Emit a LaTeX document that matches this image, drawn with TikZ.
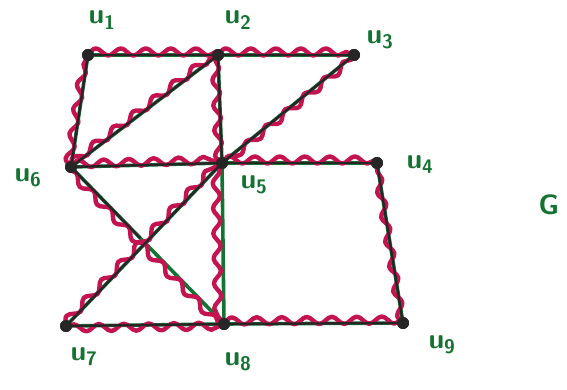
\documentclass[tikz,border=0pt]{standalone}
\usetikzlibrary{decorations.pathmorphing,calc}
\definecolor{gr}{RGB}{20,115,50}
\definecolor{rd}{RGB}{195,20,80}
\tikzset{
  gedge/.style={draw=gr,line width=3.6pt},
  redge/.style={draw=rd,line width=4.4pt,line cap=round,line join=round,decorate,decoration={snake,amplitude=3.6pt,segment length=25pt,raise=#1}},
  redge/.default=2pt,
  bedge/.style={draw=black!85,line width=2.4pt,line cap=round},
  vtx/.style={circle,fill=black!85,inner sep=0pt,minimum size=12pt},
  lab/.style={text=gr,font=\fontsize{28}{28}\selectfont\sffamily\bfseries},
}
\begin{document}
\begin{tikzpicture}[x=1pt,y=-1pt]
\useasboundingbox (0,0) rectangle (567,390);
\node[vtx] (u1) at (88,55) {};
\node[vtx] (u2) at (218,55) {};
\node[vtx] (u3) at (354,55) {};
\node[vtx] (u6) at (71,167) {};
\node[vtx] (u5) at (222,163) {};
\node[vtx] (u4) at (377,163) {};
\node[vtx] (u7) at (66,326) {};
\node[vtx] (u8) at (224,324) {};
\node[vtx] (u9) at (403,323) {};
% green lines
\foreach \a/\b in {u1/u2,u2/u3,u1/u6,u6/u2,u2/u5,u5/u3,u6/u5,u5/u4,u4/u9,u9/u8,u8/u7,u7/u5,u6/u8,u5/u8}
  \draw[gedge] (\a.center) -- (\b.center);
% red wavy lines
\draw[redge=3pt] (u1.center) -- (u2.center);
\draw[redge=3pt] (u2.center) -- (u3.center);
\draw[redge=3pt] (u6.center) -- (u1.center);
\draw[redge=3pt] (u6.center) -- (u2.center);
\draw[redge=3pt] (u5.center) -- (u2.center);
\draw[redge=-2pt] (u5.center) -- (u3.center);
\draw[redge=3pt] (u6.center) -- (u5.center);
\draw[redge=3pt] (u5.center) -- (u4.center);
\draw[redge=1pt] (u9.center) -- (u4.center);
\draw[redge=3pt] (u8.center) -- (u9.center);
\draw[redge=-2pt] (u7.center) -- (u8.center);
\draw[redge=3pt] (u7.center) -- (u5.center);
\draw[redge=-4pt] (u6.center) -- (u8.center);
\draw[redge=-6pt] (u5.center) -- (u8.center);
% black lines
\foreach \a/\b in {u1/u2,u2/u3,u1/u6,u6/u2,u2/u5,u5/u3,u6/u5,u5/u4,u4/u9,u9/u8,u8/u7,u7/u5}
  \draw[bedge] (\a.center) -- (\b.center);
\coordinate (m68) at ($(u6)!0.45!(u8)$);
\draw[bedge] (u6.center) -- (m68);
% vertices on top
\foreach \v in {u1,u2,u3,u4,u5,u6,u7,u8,u9} \fill[black!85] (\v) circle (6pt);
% labels
\node[lab] (l1) at (102,20) {u\textsubscript{1}};
\node[lab] (l2) at (238,20) {u\textsubscript{2}};
\node[lab] (l3) at (380,40) {u\textsubscript{3}};
\node[lab] (l4) at (420,165) {u\textsubscript{4}};
\node[lab] (l5) at (254,185) {u\textsubscript{5}};
\node[lab] (l6) at (28,178) {u\textsubscript{6}};
\node[lab] (l7) at (84,357) {u\textsubscript{7}};
\node[lab] (l8) at (238,362) {u\textsubscript{8}};
\node[lab] (l9) at (442,345) {u\textsubscript{9}};
\node[lab] (G) at (549,205) {G};
\end{tikzpicture}
\end{document}
